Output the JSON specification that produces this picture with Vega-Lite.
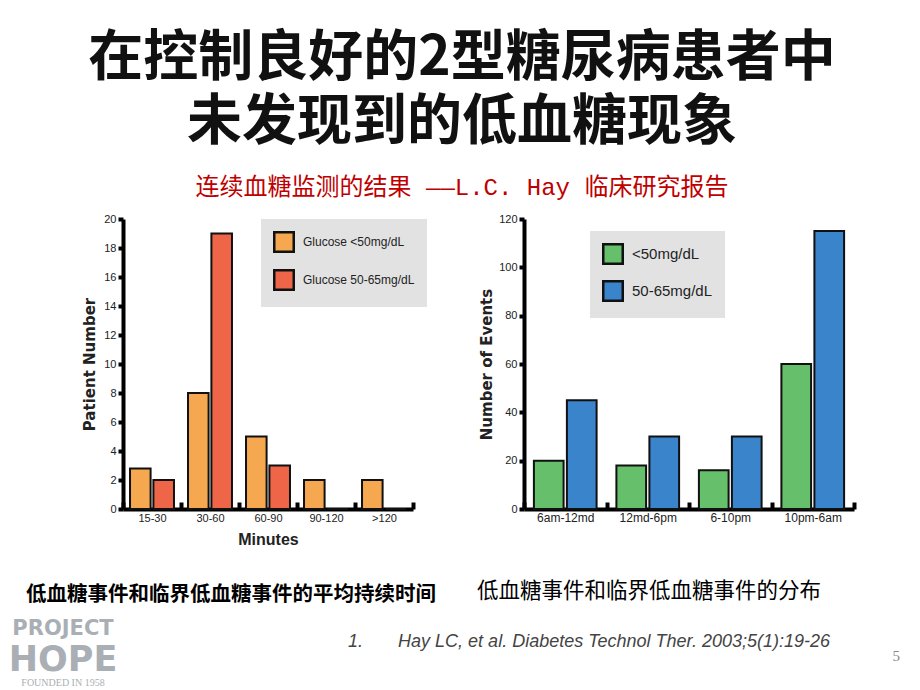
{
  "$schema": "https://vega.github.io/schema/vega-lite/v6.json",
  "background": "white",
  "padding": {"left": 8, "top": 31, "right": 5, "bottom": 0},
  "title": {
    "text": ["在控制良好的2型糖尿病患者中", "未发现到的低血糖现象"],
    "subtitle": "连续血糖监测的结果 ——L.C. Hay 临床研究报告\u00a0\u00a0\u00a0",
    "font": "Noto Sans CJK SC",
    "fontSize": 55,
    "fontWeight": "bold",
    "lineHeight": 64,
    "color": "#111111",
    "subtitleFont": "Liberation Mono, Noto Sans CJK SC",
    "subtitleFontSize": 24,
    "subtitleColor": "#C00000",
    "subtitlePadding": 25,
    "anchor": "start",
    "align": "center",
    "dx": 339,
    "frame": "group",
    "offset": 12
  },
  "config": {
    "view": {"stroke": null},
    "axis": {"grid": false}
  },
  "resolve": {"scale": {"color": "independent", "x": "independent", "y": "independent", "xOffset": "independent"}, "legend": {"color": "independent"}},
  "spacing": 8,
  "vconcat": [
    {
      "spacing": 40,
      "resolve": {"scale": {"color": "independent", "x": "independent", "y": "independent", "xOffset": "independent"}, "legend": {"color": "independent"}},
      "hconcat": [
        {
          "width": 290,
          "height": 290,
          "title": {
            "text": "低血糖事件和临界低血糖事件的平均持续时间",
            "orient": "bottom",
            "font": "Noto Sans CJK SC",
            "fontSize": 20.5,
            "fontWeight": "bold",
            "color": "#000000",
            "anchor": "middle",
            "dx": -37,
            "offset": 38
          },
          "data": {
            "values": [
              {"minutes": "15-30", "group": "Glucose <50mg/dL", "patients": 2.8},
              {"minutes": "15-30", "group": "Glucose 50-65mg/dL", "patients": 2},
              {"minutes": "30-60", "group": "Glucose <50mg/dL", "patients": 8},
              {"minutes": "30-60", "group": "Glucose 50-65mg/dL", "patients": 19},
              {"minutes": "60-90", "group": "Glucose <50mg/dL", "patients": 5},
              {"minutes": "60-90", "group": "Glucose 50-65mg/dL", "patients": 3},
              {"minutes": "90-120", "group": "Glucose <50mg/dL", "patients": 2},
              {"minutes": "90-120", "group": "Glucose 50-65mg/dL", "patients": 0},
              {"minutes": ">120", "group": "Glucose <50mg/dL", "patients": 2},
              {"minutes": ">120", "group": "Glucose 50-65mg/dL", "patients": 0}
            ]
          },
          "mark": {"type": "bar", "stroke": "#111111", "strokeWidth": 2},
          "encoding": {
            "x": {
              "field": "minutes",
              "type": "nominal",
              "sort": ["15-30", "30-60", "60-90", "90-120", ">120"],
              "scale": {"paddingInner": 0, "paddingOuter": 0},
              "axis": {
                "title": "Minutes",
                "titleFont": "Liberation Sans",
                "titleFontSize": 16,
                "titleFontWeight": "bold",
                "titleColor": "#222222",
                "titlePadding": 8,
                "labelAngle": 0,
                "labelFont": "Liberation Sans",
                "labelFontSize": 11,
                "labelColor": "#222222",
                "labelPadding": 10,
                "domainColor": "#000000",
                "domainWidth": 4,
                "tickBand": "extent",
                "tickColor": "#000000",
                "tickWidth": 4,
                "tickSize": -7
              }
            },
            "xOffset": {
              "field": "group",
              "type": "nominal",
              "sort": ["Glucose <50mg/dL", "Glucose 50-65mg/dL"],
              "scale": {"paddingInner": 0.12, "paddingOuter": 0.3}
            },
            "y": {
              "field": "patients",
              "type": "quantitative",
              "scale": {"domain": [0, 20]},
              "axis": {
                "title": "Patient Number",
                "titleFont": "DejaVu Sans",
                "titleFontSize": 15,
                "titleFontWeight": "bold",
                "titleColor": "#222222",
                "titlePadding": 6,
                "values": [0, 2, 4, 6, 8, 10, 12, 14, 16, 18, 20],
                "labelFont": "Liberation Sans",
                "labelFontSize": 11,
                "labelColor": "#222222",
                "labelPadding": 2,
                "domainColor": "#000000",
                "domainWidth": 4,
                "tickColor": "#000000",
                "tickWidth": 4,
                "tickSize": 5
              }
            },
            "color": {
              "field": "group",
              "type": "nominal",
              "scale": {
                "domain": ["Glucose <50mg/dL", "Glucose 50-65mg/dL"],
                "range": ["#F5A850", "#EE6548"]
              },
              "legend": {
                "title": null,
                "orient": "none",
                "legendX": 138,
                "legendY": 0,
                "fillColor": "#E2E2E2",
                "padding": 12,
                "rowPadding": 8,
                "symbolType": "square",
                "symbolSize": 380,
                "symbolOpacity": 1,
                "symbolStrokeColor": "#111111",
                "symbolStrokeWidth": 2.5,
                "labelFont": "Liberation Sans",
                "labelFontSize": 12,
                "labelColor": "#222222",
                "labelOffset": 8
              }
            }
          }
        },
        {
          "width": 330,
          "height": 290,
          "title": {
            "text": "低血糖事件和临界低血糖事件的分布",
            "orient": "bottom",
            "font": "Noto Sans CJK SC",
            "fontSize": 21.5,
            "fontWeight": "normal",
            "color": "#000000",
            "anchor": "middle",
            "dx": -40,
            "offset": 58
          },
          "data": {
            "values": [
              {"period": "6am-12md", "group": "<50mg/dL", "events": 20},
              {"period": "6am-12md", "group": "50-65mg/dL", "events": 45},
              {"period": "12md-6pm", "group": "<50mg/dL", "events": 18},
              {"period": "12md-6pm", "group": "50-65mg/dL", "events": 30},
              {"period": "6-10pm", "group": "<50mg/dL", "events": 16},
              {"period": "6-10pm", "group": "50-65mg/dL", "events": 30},
              {"period": "10pm-6am", "group": "<50mg/dL", "events": 60},
              {"period": "10pm-6am", "group": "50-65mg/dL", "events": 115}
            ]
          },
          "mark": {"type": "bar", "stroke": "#111111", "strokeWidth": 2},
          "encoding": {
            "x": {
              "field": "period",
              "type": "nominal",
              "sort": ["6am-12md", "12md-6pm", "6-10pm", "10pm-6am"],
              "scale": {"paddingInner": 0, "paddingOuter": 0},
              "axis": {
                "title": null,
                "labelAngle": 0,
                "labelFont": "Liberation Sans",
                "labelFontSize": 12,
                "labelColor": "#222222",
                "labelPadding": 10,
                "domainColor": "#000000",
                "domainWidth": 4,
                "tickBand": "extent",
                "tickColor": "#000000",
                "tickWidth": 4,
                "tickSize": -7
              }
            },
            "xOffset": {
              "field": "group",
              "type": "nominal",
              "sort": ["<50mg/dL", "50-65mg/dL"],
              "scale": {"paddingInner": 0.1, "paddingOuter": 0.3}
            },
            "y": {
              "field": "events",
              "type": "quantitative",
              "scale": {"domain": [0, 120]},
              "axis": {
                "title": "Number of Events",
                "titleFont": "DejaVu Sans",
                "titleFontSize": 15,
                "titleFontWeight": "bold",
                "titleColor": "#222222",
                "titlePadding": 4,
                "values": [0, 20, 40, 60, 80, 100, 120],
                "labelFont": "Liberation Sans",
                "labelFontSize": 11,
                "labelColor": "#222222",
                "labelPadding": 2,
                "domainColor": "#000000",
                "domainWidth": 4,
                "tickColor": "#000000",
                "tickWidth": 4,
                "tickSize": 5
              }
            },
            "color": {
              "field": "group",
              "type": "nominal",
              "scale": {
                "domain": ["<50mg/dL", "50-65mg/dL"],
                "range": ["#66BF6A", "#3A84CB"]
              },
              "legend": {
                "title": null,
                "orient": "none",
                "legendX": 66,
                "legendY": 12,
                "fillColor": "#E2E2E2",
                "padding": 12,
                "rowPadding": 7,
                "symbolType": "square",
                "symbolSize": 380,
                "symbolOpacity": 1,
                "symbolStrokeColor": "#111111",
                "symbolStrokeWidth": 2.5,
                "labelFont": "Liberation Sans",
                "labelFontSize": 15,
                "labelColor": "#222222",
                "labelOffset": 8
              }
            }
          }
        }
      ]
    },
    {
      "spacing": 0,
      "hconcat": [
        {
          "width": 110,
          "height": 70,
          "data": {
            "values": [
              {"line": "PROJECT"},
              {"line": "HOPE"},
              {"line": "FOUNDED IN 1958"}
            ]
          },
          "encoding": {
            "text": {"field": "line", "type": "nominal"},
            "y": {
              "field": "line",
              "type": "nominal",
              "sort": ["PROJECT", "HOPE", "FOUNDED IN 1958"],
              "scale": {"paddingOuter": 0.1},
              "axis": null
            }
          },
          "layer": [
            {
              "transform": [{"filter": "datum.line === 'PROJECT'"}],
              "mark": {"type": "text", "font": "DejaVu Sans", "fontWeight": "bold", "fontSize": 21, "color": "#A9AFB4", "dx": -115, "dy": 3}
            },
            {
              "transform": [{"filter": "datum.line === 'HOPE'"}],
              "mark": {"type": "text", "font": "DejaVu Sans", "fontWeight": "bold", "fontSize": 35, "color": "#A9AFB4", "dx": -115, "dy": 11}
            },
            {
              "transform": [{"filter": "datum.line === 'FOUNDED IN 1958'"}],
              "mark": {"type": "text", "font": "Liberation Serif", "fontSize": 10, "color": "#A9AFB4", "dx": -115, "dy": 11}
            }
          ]
        },
        {
          "width": 605,
          "height": 70,
          "title": {
            "text": "1.\u00a0\u00a0\u00a0\u00a0\u00a0\u00a0\u00a0Hay LC, et al. Diabetes Technol Ther. 2003;5(1):19-26",
            "orient": "top",
            "anchor": "end",
            "font": "Liberation Sans",
            "fontSize": 18,
            "fontStyle": "italic",
            "fontWeight": "normal",
            "color": "#444444",
            "dx": -8,
            "offset": -37
          },
          "data": {"values": []},
          "mark": {"type": "text"},
          "encoding": {}
        },
        {
          "width": 62,
          "height": 70,
          "title": {
            "text": "5",
            "orient": "top",
            "anchor": "end",
            "font": "Liberation Serif",
            "fontSize": 15,
            "fontWeight": "normal",
            "color": "#888888",
            "offset": -50
          },
          "data": {"values": []},
          "mark": {"type": "text"},
          "encoding": {}
        }
      ]
    }
  ]
}
